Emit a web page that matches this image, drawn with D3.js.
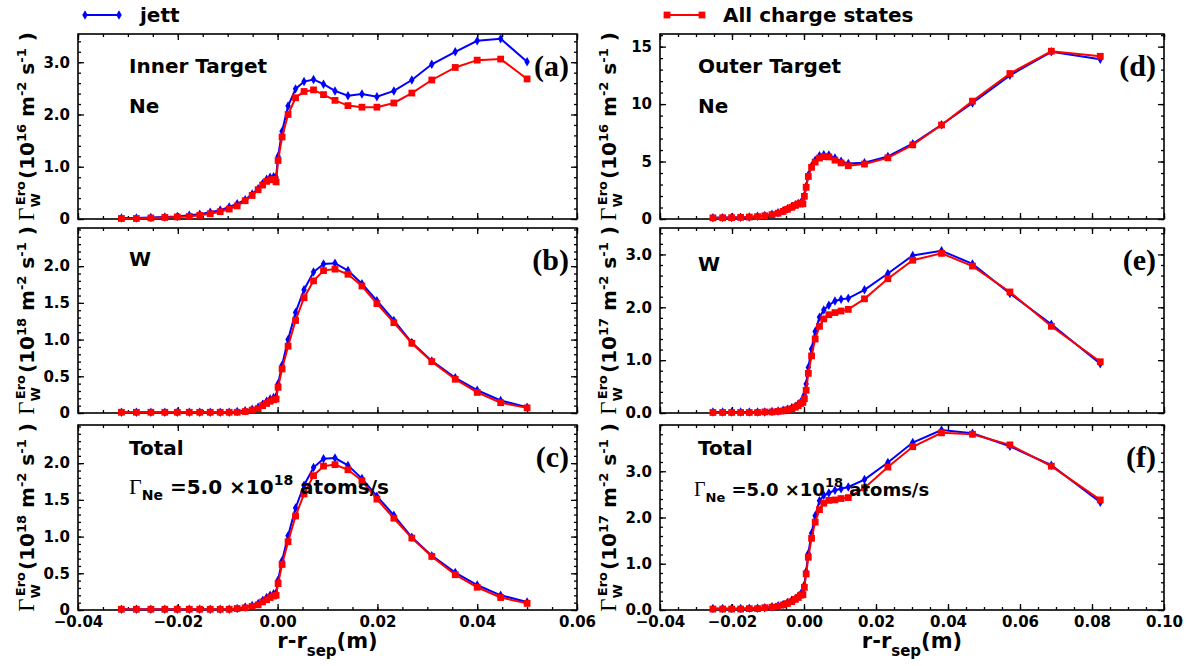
<!DOCTYPE html>
<html>
<head>
<meta charset="utf-8">
<script src="https://cdn.jsdelivr.net/npm/d3@7"></script>
<style>
  body { margin: 0; background: #fff; }
  text { font-family: 'DejaVu Sans', sans-serif; font-weight: bold; fill: #000; }
</style>
</head>
<body>
<script>

var width  = 1188;
var height = 666;

// radial positions r - r_sep (m)
var xInner = [-0.0313, -0.0283, -0.0254, -0.0226, -0.0201, -0.0177, -0.0156, -0.0135, -0.0115, -0.0097,
              -0.0081, -0.0065, -0.0051, -0.0039, -0.0030, -0.0022, -0.0015, -0.0008, -0.0003,  0.0001,
               0.0009,  0.0021,  0.0036,  0.0053,  0.0072,  0.0092,  0.0115,  0.0141,  0.0169,  0.0199,
               0.0233,  0.0269,  0.0309,  0.0356,  0.0400,  0.0447,  0.0500];

var xOuter = [-0.0253, -0.0226, -0.0201, -0.0176, -0.0152, -0.0129, -0.0109, -0.0089, -0.0072, -0.0058,
              -0.0046, -0.0034, -0.0024, -0.0016, -0.0009, -0.0003,  0.0001,  0.0006,  0.0012,  0.0021,
               0.0031,  0.0043,  0.0055,  0.0069,  0.0086,  0.0103,  0.0123,  0.0168,  0.0233,  0.0302,
               0.0382,  0.0468,  0.0572,  0.0687,  0.0823];

// (a) inner, Ne  (1e16)
var neInnerJett = [0.02, 0.02, 0.03, 0.04, 0.05, 0.07, 0.09, 0.13, 0.17, 0.23,
                   0.29, 0.37, 0.48, 0.58, 0.68, 0.76, 0.80, 0.81, 0.80, 1.20,
                   1.68, 2.16, 2.49, 2.63, 2.67, 2.58, 2.45, 2.36, 2.39, 2.34,
                   2.45, 2.66, 2.96, 3.20, 3.41, 3.45, 3.01];
var neInnerAll  = [0.01, 0.01, 0.02, 0.03, 0.04, 0.05, 0.07, 0.10, 0.14, 0.19,
                   0.25, 0.35, 0.45, 0.56, 0.65, 0.72, 0.75, 0.76, 0.71, 1.12,
                   1.57, 2.00, 2.32, 2.44, 2.47, 2.38, 2.27, 2.17, 2.14, 2.14,
                   2.22, 2.41, 2.66, 2.90, 3.04, 3.06, 2.68];

// (b) inner, W  (1e18)
var wInnerJett = [0.01, 0.01, 0.01, 0.01, 0.01, 0.01, 0.01, 0.01, 0.01, 0.01,
                  0.02, 0.03, 0.05, 0.08, 0.12, 0.16, 0.19, 0.21, 0.22, 0.40,
                  0.65, 1.00, 1.37, 1.68, 1.92, 2.03, 2.04, 1.94, 1.76, 1.53,
                  1.26, 0.96, 0.71, 0.48, 0.31, 0.17, 0.08];
var wInnerAll  = [0.01, 0.01, 0.01, 0.01, 0.01, 0.01, 0.01, 0.01, 0.01, 0.01,
                  0.01, 0.02, 0.04, 0.06, 0.10, 0.13, 0.16, 0.18, 0.19, 0.35,
                  0.60, 0.91, 1.26, 1.57, 1.80, 1.94, 1.96, 1.89, 1.73, 1.49,
                  1.23, 0.95, 0.70, 0.46, 0.28, 0.14, 0.07];

// (c) inner, total  (1e18)
var totInnerJett = [0.01, 0.01, 0.01, 0.01, 0.01, 0.01, 0.01, 0.01, 0.01, 0.01,
                    0.02, 0.04, 0.06, 0.09, 0.13, 0.17, 0.20, 0.22, 0.23, 0.41,
                    0.67, 1.01, 1.39, 1.70, 1.94, 2.06, 2.07, 1.97, 1.79, 1.55,
                    1.29, 0.99, 0.74, 0.51, 0.34, 0.20, 0.11];
var totInnerAll  = [0.01, 0.01, 0.01, 0.01, 0.01, 0.01, 0.01, 0.01, 0.01, 0.01,
                    0.02, 0.03, 0.05, 0.07, 0.11, 0.14, 0.17, 0.19, 0.20, 0.36,
                    0.62, 0.93, 1.28, 1.58, 1.83, 1.96, 1.98, 1.91, 1.76, 1.51,
                    1.25, 0.98, 0.73, 0.48, 0.31, 0.17, 0.09];

// (d) outer, Ne  (1e16)
var neOuterJett = [0.11, 0.12, 0.13, 0.15, 0.18, 0.23, 0.31, 0.41, 0.54, 0.71,
                   0.90, 1.08, 1.24, 1.36, 1.42, 1.37, 2.05, 2.85, 3.82, 4.62,
                   5.12, 5.50, 5.60, 5.58, 5.30, 5.02, 4.82, 4.90, 5.44, 6.55,
                   8.20, 10.10, 12.50, 14.55, 13.90];
var neOuterAll  = [0.10, 0.11, 0.12, 0.14, 0.17, 0.21, 0.28, 0.38, 0.50, 0.66,
                   0.84, 1.02, 1.18, 1.30, 1.37, 1.32, 1.97, 2.76, 3.70, 4.50,
                   4.95, 5.30, 5.43, 5.40, 5.12, 4.88, 4.64, 4.78, 5.32, 6.45,
                   8.18, 10.26, 12.66, 14.60, 14.16];

// (e) outer, W  (1e17)
var wOuterJett = [0.02, 0.02, 0.02, 0.02, 0.02, 0.02, 0.02, 0.03, 0.04, 0.05,
                  0.07, 0.10, 0.13, 0.17, 0.21, 0.24, 0.34, 0.55, 0.86, 1.21,
                  1.54, 1.81, 1.95, 2.04, 2.12, 2.15, 2.17, 2.33, 2.64, 2.98,
                  3.07, 2.82, 2.26, 1.68, 0.93];
var wOuterAll  = [0.01, 0.01, 0.01, 0.01, 0.01, 0.01, 0.02, 0.02, 0.03, 0.04,
                  0.06, 0.08, 0.11, 0.14, 0.18, 0.20, 0.27, 0.43, 0.75, 1.08,
                  1.40, 1.64, 1.78, 1.86, 1.90, 1.93, 1.96, 2.16, 2.54, 2.89,
                  3.02, 2.78, 2.29, 1.64, 0.97];

// (f) outer, total  (1e17)
var totOuterJett = [0.03, 0.03, 0.03, 0.03, 0.04, 0.04, 0.05, 0.07, 0.09, 0.12,
                    0.16, 0.21, 0.25, 0.30, 0.35, 0.38, 0.54, 0.83, 1.22, 1.66,
                    2.04, 2.36, 2.48, 2.53, 2.59, 2.62, 2.66, 2.82, 3.19, 3.62,
                    3.89, 3.82, 3.54, 3.13, 2.33];
var totOuterAll  = [0.02, 0.02, 0.02, 0.02, 0.03, 0.03, 0.05, 0.06, 0.08, 0.11,
                    0.14, 0.18, 0.23, 0.27, 0.32, 0.33, 0.49, 0.78, 1.14, 1.55,
                    1.90, 2.17, 2.31, 2.37, 2.38, 2.41, 2.43, 2.64, 3.09, 3.53,
                    3.83, 3.80, 3.57, 3.11, 2.38];

// tick values
var xTicksInner = [-0.04, -0.02, 0.00, 0.02, 0.04, 0.06];
var xTicksOuter = [-0.04, -0.02, 0.00, 0.02, 0.04, 0.06, 0.08, 0.10];
var yTicksA  = [0, 1, 2, 3];
var yTicksBC = [0, 0.5, 1.0, 1.5, 2.0];
var yTicksD  = [0, 5, 10, 15];
var yTicksEF = [0, 1, 2, 3];

var seriesNames = ['jett', 'All charge states'];
var colors = ['#0000ff', '#ff0000'];

var fmtOneDec = function(d){ return d === 0 ? '0' : d3.format('.1f')(d); };
var fmtInt    = d3.format('d');
var fmtEF     = d3.format('.1f');

var left  = { x0: 78,  x1: 577,  dom: [-0.04, 0.06], xt: xTicksInner, xs: xInner };
var right = { x0: 660, x1: 1164, dom: [-0.04, 0.10], xt: xTicksOuter, xs: xOuter };
var rows  = [ { y0: 34, y1: 219 }, { y0: 228, y1: 413 }, { y0: 425, y1: 610 } ];

var panels = [
    { col: left,  row: 0, ymax: 3.54, yt: yTicksA,  minor: 0.2, fmt: fmtOneDec, exp: '16', tag: '(a)', s: [neInnerJett, neInnerAll] }
  , { col: left,  row: 1, ymax: 2.52, yt: yTicksBC, minor: 0.1, fmt: fmtOneDec, exp: '18', tag: '(b)', s: [wInnerJett, wInnerAll] }
  , { col: left,  row: 2, ymax: 2.52, yt: yTicksBC, minor: 0.1, fmt: fmtOneDec, exp: '18', tag: '(c)', s: [totInnerJett, totInnerAll] }
  , { col: right, row: 0, ymax: 16.1, yt: yTicksD,  minor: 1,   fmt: fmtInt,    exp: '16', tag: '(d)', s: [neOuterJett, neOuterAll] }
  , { col: right, row: 1, ymax: 3.5,  yt: yTicksEF, minor: 0.2, fmt: fmtEF,     exp: '17', tag: '(e)', s: [wOuterJett, wOuterAll] }
  , { col: right, row: 2, ymax: 4.0,  yt: yTicksEF, minor: 0.2, fmt: fmtEF,     exp: '17', tag: '(f)', s: [totOuterJett, totOuterAll] }
];

var svg = d3.select('body')
            .append('svg')
            .attr('width', width)
            .attr('height', height);

function minorValues(lo, hi, step){
  var out = [];
  for (var v = lo; v <= hi + 1e-9; v += step) out.push(+v.toFixed(6));
  return out;
}

function marker(i){
  return i === 0 ? d3.symbol().type(d3.symbolDiamond).size(26)
                 : d3.symbol().type(d3.symbolSquare).size(46);
}

panels.forEach(function(p){
  var c = p.col, r = rows[p.row];
  var x = d3.scaleLinear().domain(c.dom).range([c.x0, c.x1]);
  var y = d3.scaleLinear().domain([0, p.ymax]).range([r.y1, r.y0]);
  var g = svg.append('g');

  var xMinor = minorValues(c.dom[0], c.dom[1], 0.005);
  var yMinor = minorValues(0, p.ymax, p.minor);

  // minor ticks, all four sides
  g.append('g').attr('transform', 'translate(0,' + r.y1 + ')')
   .call(d3.axisBottom(x).tickValues(xMinor).tickSize(-3).tickFormat(''));
  g.append('g').attr('transform', 'translate(0,' + r.y0 + ')')
   .call(d3.axisTop(x).tickValues(xMinor).tickSize(-3).tickFormat(''));
  g.append('g').attr('transform', 'translate(' + c.x0 + ',0)')
   .call(d3.axisLeft(y).tickValues(yMinor).tickSize(-3).tickFormat(''));
  g.append('g').attr('transform', 'translate(' + c.x1 + ',0)')
   .call(d3.axisRight(y).tickValues(yMinor).tickSize(-3).tickFormat(''));

  // major ticks
  var bx = d3.axisBottom(x).tickValues(c.xt).tickSize(-6).tickPadding(6).tickFormat(d3.format('.2f'));
  if (p.row !== 2) bx.tickFormat('');
  g.append('g').attr('class', 'xax').attr('transform', 'translate(0,' + r.y1 + ')').call(bx);
  g.append('g').attr('transform', 'translate(0,' + r.y0 + ')')
   .call(d3.axisTop(x).tickValues(c.xt).tickSize(-6).tickFormat(''));
  g.append('g').attr('class', 'yax').attr('transform', 'translate(' + c.x0 + ',0)')
   .call(d3.axisLeft(y).tickValues(p.yt).tickSize(-6).tickPadding(8).tickFormat(p.fmt));
  g.append('g').attr('transform', 'translate(' + c.x1 + ',0)')
   .call(d3.axisRight(y).tickValues(p.yt).tickSize(-6).tickFormat(''));

  g.selectAll('.domain').remove();
  g.selectAll('.tick line').attr('stroke', '#000').attr('stroke-width', 1.3);
  g.selectAll('.tick text')
   .style('font-family', "'DejaVu Sans', sans-serif")
   .style('font-weight', 'bold')
   .style('font-size', '15px')
   .attr('fill', '#000');

  g.append('rect')
   .attr('x', c.x0).attr('y', r.y0)
   .attr('width', c.x1 - c.x0).attr('height', r.y1 - r.y0)
   .attr('fill', 'none').attr('stroke', '#000').attr('stroke-width', 1.6);

  // series: jett first, all charge states on top
  p.s.forEach(function(vals, i){
    var pts = vals.map(function(v, k){ return [c.xs[k], v]; });
    g.append('path')
     .datum(pts)
     .attr('fill', 'none')
     .attr('stroke', colors[i])
     .attr('stroke-width', 2)
     .attr('d', d3.line().x(function(d){ return x(d[0]); }).y(function(d){ return y(d[1]); }));
    g.selectAll('.m' + i)
     .data(pts)
     .enter()
     .append('path')
     .attr('class', 'm' + i)
     .attr('transform', function(d){ return 'translate(' + x(d[0]) + ',' + y(d[1]) + ')'; })
     .attr('d', marker(i))
     .attr('fill', colors[i]);
  });

  // panel tag
  g.append('text')
   .attr('x', c.x1 - 8).attr('y', r.y0 + 42)
   .attr('text-anchor', 'end')
   .style('font-family', "'Liberation Serif', serif")
   .style('font-size', '30px')
   .text(p.tag);

  // y label
  var lx = c.x0 - 44, ly = (r.y0 + r.y1) / 2;
  var t = svg.append('text')
             .attr('transform', 'translate(' + lx + ',' + ly + ') rotate(-90)')
             .attr('text-anchor', 'middle')
             .style('font-size', '20px');
  t.append('tspan').text('\u0393').style('font-family', "'Liberation Serif', serif").style('font-weight', 'normal').style('font-size', '23px');
  t.append('tspan').text('W').style('font-size', '13px').attr('dy', 6);
  t.append('tspan').text('Ero').style('font-size', '13px').attr('dx', -12).attr('dy', -15);
  t.append('tspan').text('(10').attr('dx', 2).attr('dy', 9);
  t.append('tspan').text(p.exp).style('font-size', '13px').attr('dy', -8);
  t.append('tspan').text(' m').attr('dy', 8);
  t.append('tspan').text('-2').style('font-size', '13px').attr('dy', -8);
  t.append('tspan').text(' s').attr('dy', 8);
  t.append('tspan').text('-1').style('font-size', '13px').attr('dy', -8);
  t.append('tspan').text(' )').attr('dy', 8);
});

// panel annotations
function note(x, y, s, size){
  svg.append('text').attr('x', x).attr('y', y).style('font-size', (size || 20) + 'px').text(s);
}
note(129, 73, 'Inner Target');
note(129, 113, 'Ne');
note(129, 266, 'W');
note(129, 455, 'Total');
note(698, 73, 'Outer Target');
note(698, 113, 'Ne');
note(698, 271, 'W');
note(698, 455, 'Total');

function flux(x, y, size, sub){
  var t = svg.append('text').attr('x', x).attr('y', y).style('font-size', size + 'px');
  t.append('tspan').text('\u0393').style('font-family', "'Liberation Serif', serif").style('font-weight', 'normal').style('font-size', (size + 2) + 'px');
  t.append('tspan').text('Ne').style('font-size', sub + 'px').attr('dy', 6);
  t.append('tspan').text(' =5.0 \u00d710').attr('dy', -6);
  t.append('tspan').text('18').style('font-size', sub + 'px').attr('dy', -9);
  t.append('tspan').text(' atoms/s').attr('dy', 9);
}
flux(129, 494, 20, 14);
flux(694, 496, 18, 13);

// x labels
function xLabel(cx){
  var t = svg.append('text').attr('x', cx).attr('y', 648).attr('text-anchor', 'middle').style('font-size', '21px');
  t.append('tspan').text('r-r');
  t.append('tspan').text('sep').style('font-size', '15px').attr('dy', 8);
  t.append('tspan').text('(m)').attr('dy', -8);
}
xLabel((left.x0 + left.x1) / 2);
xLabel((right.x0 + right.x1) / 2);

// legend
[[85, 119, 140], [667, 702, 723]].forEach(function(L, i){
  svg.append('line').attr('x1', L[0]).attr('x2', L[1]).attr('y1', 15).attr('y2', 15)
     .attr('stroke', colors[i]).attr('stroke-width', 2);
  [L[0], L[1]].forEach(function(px){
    svg.append('path').attr('transform', 'translate(' + px + ',15)').attr('d', marker(i)).attr('fill', colors[i]);
  });
  svg.append('text').attr('x', L[2]).attr('y', 22).style('font-size', '20px').text(seriesNames[i]);
});

</script>
</body>
</html>
